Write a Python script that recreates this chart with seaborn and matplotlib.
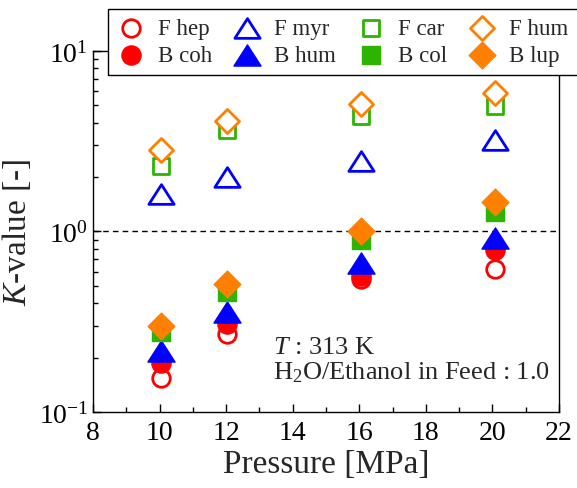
import numpy as np
import pandas as pd
import matplotlib
matplotlib.use("Agg")
import matplotlib.pyplot as plt
from matplotlib.path import Path
from matplotlib.ticker import MultipleLocator, LogLocator, NullFormatter
import seaborn as sns

# values
pressure = [10.03, 12.03, 16.05, 20.07]
f_hep = [0.154, 0.269, 0.545, 0.62]
b_coh = [0.186, 0.307, 0.57, 0.79]
f_myr = [1.62, 2.01, 2.46, 3.22]
b_hum = [0.218, 0.36, 0.67, 0.92]
f_car = [2.31, 3.64, 4.38, 4.95]
b_col = [0.276, 0.46, 0.90, 1.28]
f_hum = [2.82, 4.10, 5.06, 5.87]
b_lup = [0.30, 0.51, 1.00, 1.46]

sns.set_style("ticks")
plt.rcParams["font.family"] = ["Liberation Serif", "DejaVu Serif"]
plt.rcParams["mathtext.fontset"] = "custom"
plt.rcParams["mathtext.rm"] = "Liberation Serif"
plt.rcParams["mathtext.it"] = "Liberation Serif:italic"
plt.rcParams["axes.unicode_minus"] = False

RED, BLUE, GREEN, ORANGE = "#ff0000", "#0000ff", "#2db400", "#ff8000"
# wide triangle, closed so the open one gets all three edges
tri = Path([(-1, -0.78), (1, -0.78), (0, 0.78), (-1, -0.78)],
           [Path.MOVETO, Path.LINETO, Path.LINETO, Path.CLOSEPOLY])

# (label, values, marker, colour, filled, size)
series = [
    ("F hep", f_hep, "o", RED, False, 160),
    ("B coh", b_coh, "o", RED, True, 190),
    ("F myr", f_myr, tri, BLUE, False, 330),
    ("B hum", b_hum, tri, BLUE, True, 380),
    ("F car", f_car, "s", GREEN, False, 145),
    ("B col", b_col, "s", GREEN, True, 180),
    ("F hum", f_hum, "D", ORANGE, False, 150),
    ("B lup", b_lup, "D", ORANGE, True, 185),
]

fig = plt.figure(figsize=(5.77, 4.89), dpi=100)
ax = fig.add_axes([0.1612, 0.1554, 0.8076, 0.7383])

for name, vals, mk, col, filled, size in series:
    df = pd.DataFrame({"P": pressure, "K": vals})
    sns.scatterplot(data=df, x="P", y="K", ax=ax, marker=mk, s=size,
                    facecolor=col if filled else "white", edgecolor=col,
                    linewidth=1 if filled else 2, label=name, zorder=3)

ax.axhline(1.0, color="black", lw=1, ls=(0, (4, 3)), zorder=1)

ax.set_yscale("log")
ax.set_xlim(8, 22)
ax.set_ylim(0.1, 10)
ax.xaxis.set_major_locator(MultipleLocator(2))
ax.xaxis.set_minor_locator(MultipleLocator(1))
ax.yaxis.set_major_locator(LogLocator(base=10))
ax.yaxis.set_minor_locator(LogLocator(base=10, subs=np.arange(2, 10)))
ax.yaxis.set_minor_formatter(NullFormatter())
ax.tick_params(which="both", direction="in", labelsize=20, width=1, colors="black")
ax.tick_params(which="major", length=5.5)
ax.tick_params(which="minor", length=3.5)
ax.tick_params(axis="x", pad=6)
for sp in ax.spines.values():
    sp.set_visible(True)
    sp.set_color("black")
    sp.set_linewidth(1)

ax.set_xlabel("Pressure [MPa]", fontsize=24, labelpad=2)
ax.set_ylabel("$\\mathit{K}$-value [-]", fontsize=24, labelpad=4)

ax.text(13.4, 0.229, "$\\mathit{T}$ : 313 K", fontsize=19, ha="left", va="center")
ax.text(13.4, 0.168, "H$_2$O/Ethanol in Feed : 1.0", fontsize=19, ha="left", va="center")

ax.get_legend().remove()
handles, labels = ax.get_legend_handles_labels()
leg = ax.legend(handles, labels, ncol=4, loc="upper left",
                bbox_to_anchor=(0.187, 0.98), bbox_transform=fig.transFigure,
                fontsize=16.5, frameon=True, fancybox=False, edgecolor="black",
                framealpha=1, borderaxespad=0, borderpad=0.4,
                handlelength=1.2, handletextpad=0.6, columnspacing=0.9,
                labelspacing=0.25)
leg.get_frame().set_linewidth(1)
leg.set_zorder(10)

fig.savefig("out.png", dpi=100)
